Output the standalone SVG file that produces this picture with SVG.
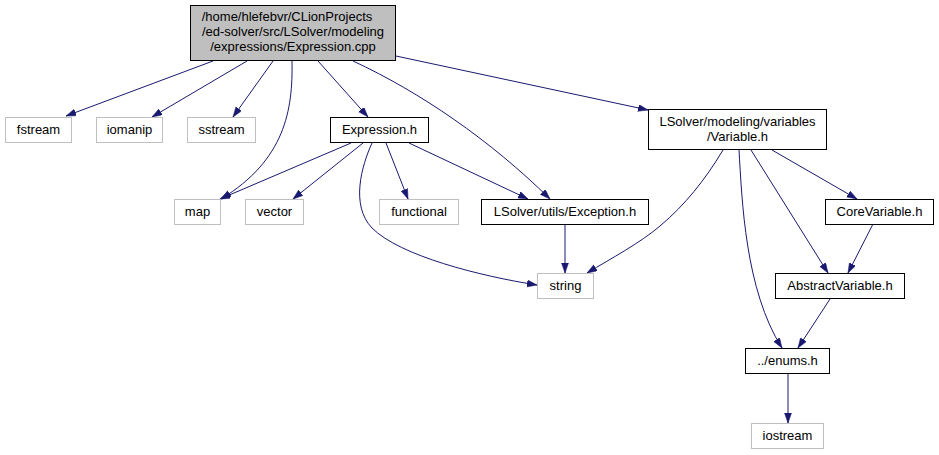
<svg xmlns="http://www.w3.org/2000/svg" width="939" height="455" viewBox="0 0 939 455">
<style>
.n rect{fill:#ffffff;stroke:#000000;stroke-width:1}
.g rect{fill:#ffffff;stroke:#bfbfbf;stroke-width:1}
.r rect{fill:#bfbfbf;stroke:#000000;stroke-width:1}
text{font-family:"Liberation Sans",Arial,sans-serif;font-size:13px;fill:#000000;text-anchor:middle}
.e path{fill:none;stroke:#191970;stroke-width:1;marker-end:url(#ah)}
</style>
<defs>
<marker id="ah" markerUnits="userSpaceOnUse" markerWidth="11" markerHeight="8" refX="10" refY="3.5" orient="auto">
<path d="M0,0 L10,3.5 L0,7 z" fill="#191970" stroke="#191970" stroke-width="0.5"/>
</marker>
</defs>
<rect width="939" height="455" fill="#ffffff"/>
<g id="edges" class="e">
<path d="M213,61 L66,116"/>
<path d="M247,61 L152,117"/>
<path d="M273,61 L233,117"/>
<path d="M292,61 C293,110 285,160 221,199"/>
<path d="M318,61 L368,117"/>
<path d="M353,61 C420,92 490,140 550,199"/>
<path d="M396,56 L648,110"/>
<path d="M351,143 L220,199"/>
<path d="M363,143 L293,199"/>
<path d="M372,143 C362,165 350,205 372,228 C400,256 480,276 537,285"/>
<path d="M386,143 L408,199"/>
<path d="M409,143 L528,199"/>
<path d="M565,224 L565,273"/>
<path d="M723,150 C705,180 685,205 660,226 C640,243 612,258 587,273"/>
<path d="M739,150 C742,200 745,290 782,348"/>
<path d="M751,150 L828,273"/>
<path d="M772,150 L857,199"/>
<path d="M873,224 L848,273"/>
<path d="M830,299 L798,348"/>
<path d="M788,374 L788,423"/>
</g>
<g id="node_root" class="r">
<rect x="190.5" y="5.5" width="205" height="55"/>
<text x="287" y="21">/home/hlefebvr/CLionProjects</text>
<text x="293" y="36">/ed-solver/src/LSolver/modeling</text>
<text x="293" y="51">/expressions/Expression.cpp</text>
</g>
<g id="node_fstream" class="g"><rect x="5.5" y="117.5" width="66" height="25"/><text x="38.5" y="134">fstream</text></g>
<g id="node_iomanip" class="g"><rect x="96.5" y="117.5" width="66" height="25"/><text x="129.5" y="134">iomanip</text></g>
<g id="node_sstream" class="g"><rect x="187.5" y="117.5" width="68" height="25"/><text x="221.5" y="134">sstream</text></g>
<g id="node_expression_h" class="n"><rect x="330.5" y="117.5" width="98" height="25"/><text x="379.5" y="134">Expression.h</text></g>
<g id="node_variable_h" class="n"><rect x="648.5" y="109.5" width="178" height="40"/><text x="737.5" y="126">LSolver/modeling/variables</text><text x="737.5" y="141">/Variable.h</text></g>
<g id="node_map" class="g"><rect x="174.5" y="199.5" width="46" height="25"/><text x="197.5" y="216">map</text></g>
<g id="node_vector" class="g"><rect x="245.5" y="199.5" width="58" height="25"/><text x="274.5" y="216">vector</text></g>
<g id="node_functional" class="g"><rect x="379.5" y="199.5" width="79" height="25"/><text x="419" y="216">functional</text></g>
<g id="node_exception_h" class="n"><rect x="481.5" y="199.5" width="167" height="25"/><text x="565" y="216">LSolver/utils/Exception.h</text></g>
<g id="node_corevariable_h" class="n"><rect x="825.5" y="199.5" width="108" height="25"/><text x="879.5" y="216">CoreVariable.h</text></g>
<g id="node_string" class="g"><rect x="537.5" y="273.5" width="56" height="25"/><text x="565.5" y="290">string</text></g>
<g id="node_abstractvariable_h" class="n"><rect x="775.5" y="273.5" width="129" height="25"/><text x="840" y="290">AbstractVariable.h</text></g>
<g id="node_enums_h" class="n"><rect x="745.5" y="348.5" width="84" height="25"/><text x="787.5" y="365">../enums.h</text></g>
<g id="node_iostream" class="g"><rect x="751.5" y="423.5" width="72" height="25"/><text x="787.5" y="440">iostream</text></g>
</svg>
